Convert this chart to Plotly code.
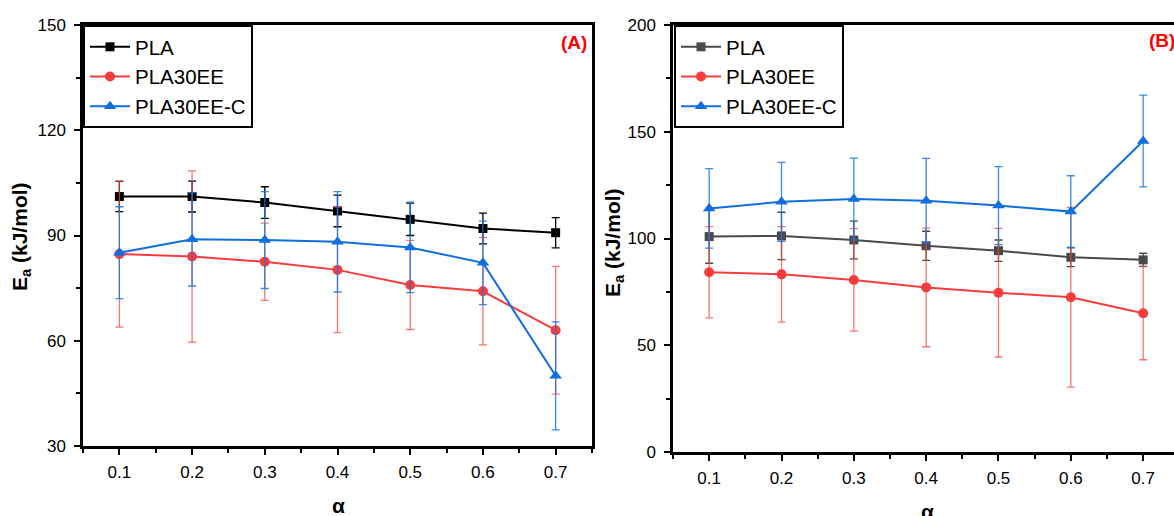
import plotly.graph_objects as go

# conversion degree
alpha = [0.1, 0.2, 0.3, 0.4, 0.5, 0.6, 0.7]
alpha_labels = ["0.1", "0.2", "0.3", "0.4", "0.5", "0.6", "0.7"]

# (A) activation energy, kJ/mol, with error
a_pla = [101.1, 101.1, 99.4, 97.0, 94.6, 92.0, 90.8]
a_pla_err = [4.3, 4.4, 4.5, 4.5, 4.6, 4.4, 4.3]
a_ee = [84.7, 84.0, 82.5, 80.2, 75.9, 74.1, 63.0]
a_ee_err = [20.8, 24.4, 11.0, 17.9, 12.7, 15.3, 18.2]
a_eec = [85.1, 88.9, 88.7, 88.2, 86.6, 82.2, 50.0]
a_eec_err = [13.1, 13.3, 13.8, 14.3, 12.9, 11.9, 15.4]

# (B) activation energy, kJ/mol, with error
b_pla = [100.9, 101.2, 99.3, 96.6, 94.3, 91.2, 90.0]
b_pla_err = [12.5, 11.1, 8.8, 6.8, 5.0, 4.4, 3.1]
b_ee = [84.2, 83.2, 80.6, 77.1, 74.6, 72.5, 65.0]
b_ee_err = [21.4, 22.4, 24.0, 27.8, 30.1, 42.1, 21.8]
b_eec = [114.1, 117.2, 118.5, 117.7, 115.4, 112.6, 145.7]
b_eec_err = [18.6, 18.5, 19.1, 19.8, 18.3, 16.8, 21.5]

W, H = 1174, 516
FONT = "Liberation Sans, Arial, sans-serif"
RED = "#f83c3c"
RED_ERR = "rgba(248,70,70,0.75)"
BLUE = "#0f6fe0"
BLUE_ERR = "rgba(20,120,230,0.85)"
GREY = "#4a4a4a"
PX_PER_TENTH = 72.33  # horizontal pixels per 0.1 of alpha


def px_x(p):
    return p / W


def px_y(p):
    return 1 - p / H


def series(x, y, err, name, color, ecolor, symbol, size, xa, ya, legend):
    return go.Scatter(
        x=x, y=y, name=name, mode="lines+markers",
        line=dict(color=color, width=2),
        marker=dict(color=color, symbol=symbol, size=size),
        error_y=dict(type="data", array=err, visible=True,
                     color=ecolor, thickness=1.3, width=4),
        xaxis=xa, yaxis=ya, legend=legend,
    )


fig = go.Figure()
fig.add_trace(series(alpha, a_pla, a_pla_err, "PLA", "black", "black", "square", 9, "x", "y", "legend"))
fig.add_trace(series(alpha, a_ee, a_ee_err, "PLA30EE", RED, RED_ERR, "circle", 10, "x", "y", "legend"))
fig.add_trace(series(alpha, a_eec, a_eec_err, "PLA30EE-C", BLUE, BLUE_ERR, "triangle-up", 11, "x", "y", "legend"))
fig.add_trace(series(alpha, b_pla, b_pla_err, "PLA", GREY, GREY, "square", 9, "x2", "y2", "legend2"))
fig.add_trace(series(alpha, b_ee, b_ee_err, "PLA30EE", RED, RED_ERR, "circle", 10, "x2", "y2", "legend2"))
fig.add_trace(series(alpha, b_eec, b_eec_err, "PLA30EE-C", BLUE, BLUE_ERR, "triangle-up", 11, "x2", "y2", "legend2"))

tickfont = dict(family=FONT, size=17, color="black")


def xaxis_style(domain, rng, anchor):
    return dict(
        domain=domain, range=rng, anchor=anchor, automargin=False,
        tickvals=alpha, ticktext=alpha_labels,
        ticks="outside", ticklen=6, tickwidth=2, tickcolor="black",
        showline=True, linewidth=2.5, linecolor="black", mirror=True,
        showgrid=False, zeroline=False, tickfont=tickfont,
        ticklabelstandoff=3,
        minor=dict(tickvals=[0.05, 0.15, 0.25, 0.35, 0.45, 0.55, 0.65, 0.75],
                   ticks="outside", ticklen=4, tickwidth=2, tickcolor="black"),
    )


def yaxis_style(domain, rng, dtick, mirror, anchor):
    return dict(
        domain=domain, range=rng, anchor=anchor, automargin=False,
        tick0=rng[0], dtick=dtick,
        ticks="outside", ticklen=6, tickwidth=2, tickcolor="black",
        showline=True, linewidth=2.5, linecolor="black", mirror=mirror,
        showgrid=False, zeroline=False, tickfont=tickfont,
        ticklabelstandoff=5,
        minor=dict(dtick=dtick / 2, tick0=rng[0], ticks="outside",
                   ticklen=4, tickwidth=2, tickcolor="black"),
    )


legend_common = dict(
    xanchor="left", yanchor="top", bgcolor="white",
    bordercolor="black", borderwidth=2,
    font=dict(family=FONT, size=20.5, color="black"),
    tracegroupgap=0, itemwidth=40,
)

fig.update_layout(
    template="none",
    width=W, height=H, autosize=False,
    margin=dict(l=0, r=0, t=0, b=0, pad=0, autoexpand=False),
    paper_bgcolor="white", plot_bgcolor="white",
    font=dict(family=FONT, color="black"),
    xaxis=xaxis_style([px_x(83), px_x(592)], [0.05, 0.75], "y"),
    yaxis=yaxis_style([px_y(446), px_y(25)], [30, 150], 30, True, "x"),
    xaxis2=xaxis_style([px_x(673), 1.0],
                       [0.05, 0.05 + (W - 673) / PX_PER_TENTH * 0.1], "y2"),
    yaxis2=yaxis_style([px_y(452), px_y(25)], [0, 200], 50, False, "x2"),
    legend=dict(x=px_x(83), y=px_y(25), **legend_common),
    legend2=dict(x=px_x(674), y=px_y(25), **legend_common),
    showlegend=True,
)

title_font = dict(family=FONT, size=21, color="black")
annotations = [
    dict(text="<b>(A)</b>", x=px_x(574), y=px_y(42), font=dict(family=FONT, size=19, color="#ff0000")),
    dict(text="<b>(B)</b>", x=px_x(1147), y=px_y(40), xanchor="left", font=dict(family=FONT, size=19, color="#ff0000")),
    dict(text="<b>E<sub>a</sub> (kJ/mol)</b>", x=px_x(21), y=px_y(237), textangle=-90, font=title_font),
    dict(text="<b>E<sub>a</sub> (kJ/mol)</b>", x=px_x(614), y=px_y(243), textangle=-90, font=title_font),
    dict(text="<b>α</b>", x=px_x(338), y=px_y(505), font=title_font),
    dict(text="<b>α</b>", x=px_x(928), y=px_y(511), font=title_font),
]
for a in annotations:
    a.setdefault("xanchor", "center")
    a.update(xref="paper", yref="paper", showarrow=False, yanchor="middle")
    fig.add_annotation(**a)

fig.write_html("out.html")
